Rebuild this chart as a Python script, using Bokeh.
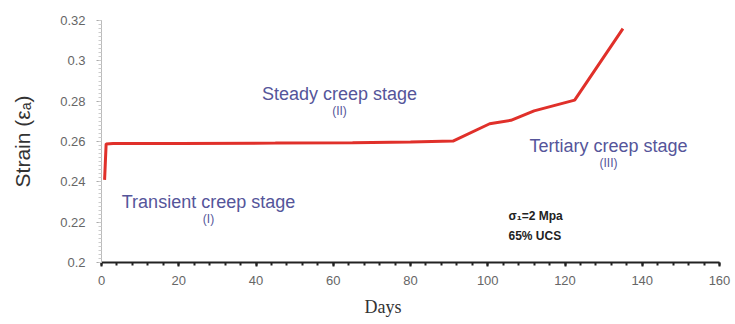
from bokeh.plotting import figure
from bokeh.models import Range1d, Label, FixedTicker, Title
from bokeh.embed import file_html
from bokeh.resources import INLINE

# data
days = [0.8, 1.2, 3, 20, 45, 65, 80, 91, 100.5, 106, 112, 122.5, 135]
strain = [0.241, 0.2588, 0.259, 0.259, 0.2592, 0.2594, 0.2598, 0.2602, 0.2688, 0.2705, 0.2752, 0.2805, 0.316]

x_ticks = [0, 20, 40, 60, 80, 100, 120, 140, 160]
y_ticks = [0.2, 0.22, 0.24, 0.26, 0.28, 0.3, 0.32]

stage_labels = [
    ("Steady creep stage", "(II)", 339, 93),
    ("Transient creep stage", "(I)", 208, 201),
    ("Tertiary creep stage", "(III)", 608, 145),
]

W, H = 735, 324
FL, FB = 101, 262  # frame left / bottom in picture pixels


def sx(rx):
    return rx - FL


def sy(ry):
    return FB - ry


p = figure(width=W, height=H, output_backend="svg", toolbar_location=None,
           x_range=Range1d(0, 160), y_range=Range1d(0.2, 0.32),
           min_border_left=101, min_border_right=W - 719, min_border_top=20,
           min_border_bottom=H - FB)
p.outline_line_color = None
p.xgrid.grid_line_color = None
p.ygrid.grid_line_color = None

p.line(days, strain, line_color="#e0302a", line_width=3)

xa = p.xaxis[0]
xa.ticker = FixedTicker(ticks=x_ticks, minor_ticks=[i * 4 for i in range(41)])
xa.axis_line_color = "#222222"
xa.axis_line_width = 2
xa.major_tick_in = 0
xa.major_tick_out = 4
xa.minor_tick_in = 0
xa.minor_tick_out = 3
xa.major_tick_line_color = "#222222"
xa.minor_tick_line_color = "#222222"
xa.major_tick_line_width = 2
xa.minor_tick_line_width = 2
xa.major_label_text_font = "Liberation Sans"
xa.major_label_text_font_size = "13px"
xa.major_label_text_color = "#666666"
xa.major_label_standoff = 9

ya = p.yaxis[0]
ya.ticker = FixedTicker(ticks=y_ticks, minor_ticks=[0.2 + i * 0.002 for i in range(61)])
ya.axis_line_color = "#bbbbbb"
ya.major_tick_in = 0
ya.major_tick_out = 5
ya.minor_tick_in = 0
ya.minor_tick_out = 3
ya.major_tick_line_color = "#aaaaaa"
ya.minor_tick_line_color = "#cccccc"
ya.major_label_text_font = "Liberation Sans"
ya.major_label_text_font_size = "13px"
ya.major_label_text_color = "#666666"
ya.major_label_standoff = 11
ya.axis_label = "Strain (εₐ)"
ya.axis_label_text_font = "Liberation Sans"
ya.axis_label_text_font_size = "21px"
ya.axis_label_text_font_style = "normal"
ya.axis_label_text_color = "#333333"
ya.axis_label_standoff = 23

days_title = Title(text="Days", align="left", offset=263, standoff=15,
                   text_font="Liberation Serif", text_font_size="18px",
                   text_font_style="normal", text_color="#333333")
p.add_layout(days_title, "below")

for t1, t2, cx, cy in stage_labels:
    p.add_layout(Label(x=sx(cx), y=sy(cy), x_units="screen", y_units="screen",
                       text=t1, text_align="center", text_baseline="middle",
                       text_font="Liberation Sans", text_font_size="18px", text_color="#55559a"))
    p.add_layout(Label(x=sx(cx), y=sy(cy + 17), x_units="screen", y_units="screen",
                       text=t2, text_align="center", text_baseline="middle",
                       text_font="Liberation Sans", text_font_size="12px", text_color="#55559a"))

p.add_layout(Label(x=sx(508), y=sy(215), x_units="screen", y_units="screen",
                   text="σ₁=2 Mpa", text_align="left", text_baseline="middle",
                   text_font="Liberation Sans", text_font_style="bold",
                   text_font_size="12px", text_color="#222222"))
p.add_layout(Label(x=sx(508), y=sy(235), x_units="screen", y_units="screen",
                   text="65%  UCS", text_align="left", text_baseline="middle",
                   text_font="Liberation Sans", text_font_style="bold",
                   text_font_size="12px", text_color="#222222"))

open("out.html", "w").write(file_html(p, INLINE))
